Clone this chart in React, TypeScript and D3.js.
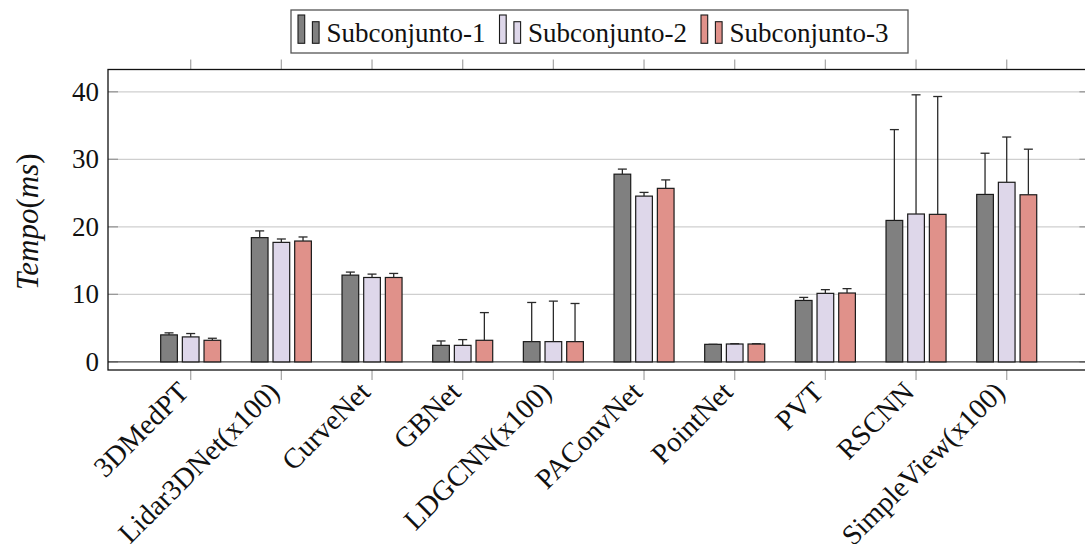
import React from 'react';
import * as d3 from 'd3';

const categories = ['3DMedPT', 'Lidar3DNet(x100)', 'CurveNet', 'GBNet', 'LDGCNN(x100)', 'PAConvNet', 'PointNet', 'PVT', 'RSCNN', 'SimpleView(x100)'];
const seriesNames = ['Subconjunto-1', 'Subconjunto-2', 'Subconjunto-3'];
const sub1 = [4.0, 18.4, 12.85, 2.45, 3.0, 27.8, 2.6, 9.1, 20.95, 24.8];
const sub1Err = [0.3, 1.0, 0.45, 0.65, 5.8, 0.75, 0.0, 0.45, 13.45, 6.1];
const sub2 = [3.7, 17.7, 12.5, 2.45, 3.0, 24.55, 2.65, 10.15, 21.9, 26.6];
const sub2Err = [0.5, 0.5, 0.5, 0.85, 6.0, 0.55, 0.05, 0.55, 17.65, 6.7];
const sub3 = [3.2, 17.9, 12.5, 3.2, 3.0, 25.7, 2.65, 10.2, 21.85, 24.75];
const sub3Err = [0.3, 0.6, 0.6, 4.1, 5.65, 1.25, 0.05, 0.65, 17.45, 6.75];
const yTicks = [0, 10, 20, 30, 40];

const colors = ['#808080', '#ded7ea', '#e0918a'];
const font = '"Liberation Serif", "Times New Roman", serif';

const W = 1085;
const H = 544;
const plot = { left: 108, right: 1089.4, top: 69.5, bottom: 370 };

export default function App() {
  const x = d3.scaleLinear().domain([-0.912, categories.length - 1 + 0.912]).range([plot.left, plot.right]);
  const y = d3.scaleLinear().domain([-1.2, 43.3]).range([plot.bottom, plot.top]);

  const unit = x(1) - x(0);
  const barW = 0.184 * unit;
  const offsets = [-0.239, 0, 0.239];
  const values = [sub1, sub2, sub3];
  const errs = [sub1Err, sub2Err, sub3Err];
  const capW = 9;

  const fs = 27;

  // legend layout
  const legX = 291;
  const legY = 10;
  const legH = 43;
  const itemStep = 201.5;

  return (
    <div style={{ position: 'absolute', left: 0, top: 0 }}>
      <svg width={W} height={H} style={{ display: 'block', background: '#fff', overflow: 'hidden' }} fontFamily={font}>
        {/* grid */}
        {yTicks.filter(t => t !== 0).map(t => (
          <line key={'g' + t} x1={plot.left} x2={plot.right} y1={y(t)} y2={y(t)} stroke="#cfcfcf" strokeWidth={1.3} />
        ))}
        {/* y ticks inward on both sides */}
        {yTicks.map(t => (
          <g key={'yt' + t}>
            <line x1={plot.left} x2={plot.left + 10} y1={y(t)} y2={y(t)} stroke="#999" strokeWidth={1.3} />
            <line x1={plot.right - 10} x2={plot.right} y1={y(t)} y2={y(t)} stroke="#999" strokeWidth={1.3} />
            <text x={99} y={y(t)} textAnchor="end" dominantBaseline="central" fontSize={fs} fill="#111">{t}</text>
          </g>
        ))}
        {/* x ticks outward top and bottom */}
        {categories.map((c, i) => (
          <g key={'xt' + c}>
            <line x1={x(i)} x2={x(i)} y1={plot.top - 10} y2={plot.top} stroke="#aaa" strokeWidth={1.3} />
            <line x1={x(i)} x2={x(i)} y1={plot.bottom} y2={plot.bottom + 10} stroke="#aaa" strokeWidth={1.3} />
            <text
              transform={`translate(${x(i) - 7},${plot.bottom + 17}) rotate(-45)`}
              textAnchor="end"
              dominantBaseline="central"
              fontSize={28.5}
              fill="#111"
            >
              {c}
            </text>
          </g>
        ))}
        {/* zero line */}
        <line x1={plot.left} x2={plot.right} y1={y(0)} y2={y(0)} stroke="#444" strokeWidth={1.4} />
        {/* bars */}
        {values.map((vals, s) =>
          vals.map((v, i) => {
            const cx = x(i + offsets[s]);
            return (
              <g key={`b${s}-${i}`}>
                <rect x={cx - barW / 2} y={y(v)} width={barW} height={y(0) - y(v)} fill={colors[s]} stroke="#1a1a1a" strokeWidth={1.2} />
                <line x1={cx} x2={cx} y1={y(v)} y2={y(v + errs[s][i])} stroke="#2a2a2a" strokeWidth={1.3} />
                <line x1={cx - capW / 2} x2={cx + capW / 2} y1={y(v + errs[s][i])} y2={y(v + errs[s][i])} stroke="#2a2a2a" strokeWidth={1.3} />
              </g>
            );
          })
        )}
        {/* frame */}
        <rect x={plot.left} y={plot.top} width={plot.right - plot.left} height={plot.bottom - plot.top} fill="none" stroke="#111" strokeWidth={1.3} />
        {/* y label */}
        <text transform={`translate(27,${(plot.top + plot.bottom) / 2 + 2}) rotate(-90)`} textAnchor="middle" dominantBaseline="central" fontSize={31} fill="#111">
          <tspan fontStyle="italic">Tempo</tspan>
          <tspan>(</tspan>
          <tspan fontStyle="italic">ms</tspan>
          <tspan>)</tspan>
        </text>
        {/* legend */}
        <rect x={legX} y={legY} width={617} height={legH} fill="#fff" stroke="#555" strokeWidth={1.3} />
        {seriesNames.map((name, s) => {
          const ix = legX + 7 + s * itemStep;
          return (
            <g key={'l' + name}>
              <rect x={ix} y={15} width={6.7} height={28.3} fill={colors[s]} stroke="#1a1a1a" strokeWidth={1.1} />
              <rect x={ix + 14.4} y={21.7} width={6.7} height={21.6} fill={colors[s]} stroke="#1a1a1a" strokeWidth={1.1} />
              <text x={ix + 28.4} y={legY + legH / 2 + 1} dominantBaseline="central" fontSize={fs} fill="#111">{name}</text>
            </g>
          );
        })}
      </svg>
    </div>
  );
}
